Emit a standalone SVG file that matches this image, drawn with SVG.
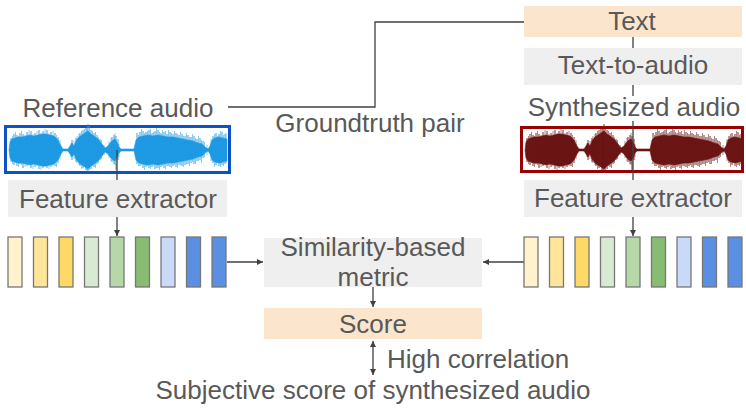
<svg xmlns="http://www.w3.org/2000/svg" xmlns:xlink="http://www.w3.org/1999/xlink" width="746" height="411" viewBox="0 0 746 411">
<style>
text{font-family:"Liberation Sans",Arial,sans-serif;font-size:26px;fill:#595959}
.c{text-anchor:middle}
.gray{fill:#efefef}
.peach{fill:#fce5cd}
.bar{stroke:#777;stroke-width:1.3}
.conn{fill:none;stroke:#404040;stroke-width:1.3}
</style>
<defs>
<marker id="ah" viewBox="0 0 10 10" refX="10" refY="5" markerWidth="6" markerHeight="6" markerUnits="userSpaceOnUse" orient="auto-start-reverse">
<path d="M0,0L10,5L0,10z" fill="#404040"/>
</marker>
<g id="wave">
<path stroke-width="0.6" d="M9,150L10,142 12,139 15,138 18,137 22,137 26,136 30,135 34,136 38,135 42,134 46,134 50,135 54,136 58,140 61,146 63,149 68,149 70,146 72,143 74,146 76,141 79,137 82,135 85,133 88,131 91,134 94,136 98,139 102,144 105,148 108,146 110,143 113,140 115,139 117,142 119,147 121,149 134,149 136,140 139,137 143,136 148,135 153,136 158,135 163,136 168,137 173,137 178,138 183,139 188,140 193,141 198,143 202,144 205,147 208,149 210,146 212,140 215,138 219,137 223,138 227,139 227,161 223,162 219,163 215,162 212,160 210,154 208,151 205,153 202,156 198,157 193,159 188,160 183,161 178,162 173,163 168,163 163,164 158,165 153,164 148,165 143,164 139,163 136,160 134,151 121,151 119,153 117,158 115,161 113,160 110,157 108,154 105,152 102,156 98,161 94,164 91,166 88,169 85,167 82,165 79,163 76,159 74,154 72,157 70,154 68,151 63,151 61,154 58,160 54,164 50,165 46,166 42,166 38,165 34,164 30,165 26,164 22,163 18,163 15,162 12,161 10,158z"/>
<path fill="none" stroke-width="0.9" d="M11,138V162M14,134V165M17,135V166M20,133V164M23,134V168M27,132V166M31,131V168M35,133V167M39,130V169M43,131V168M47,130V168M51,132V167M55,133V166M58,137V163M72,140V160M76,138V162M80,133V166M83,130V168M86,128V170M88,124V172M91,130V169M94,133V167M97,135V164M100,139V160M112,137V162M114,135V164M116,136V170M118,139V160M137,133V164M140,132V166M143,131V168M146,132V167M149,130V168M152,133V167M155,131V169M158,130V168M161,133V167M164,132V168M167,134V166M170,132V167M173,134V166M176,133V167M179,135V165M182,134V166M185,136V165M188,135V164M191,137V163M194,136V164M197,139V161M200,138V160M203,141V158M213,136V163M216,133V165M219,134V166M222,132V165M225,134V164"/>
<path fill="none" stroke-width="0.7" opacity="0.75" d="M12.5,136V164M15.5,132V163M18.5,136V167M21.5,131V165M25,135V167M29,130V164M33,134V169M37,131V166M41,133V170M45,129V167M49,133V169M53,131V166M56.5,135V167M60,140V159M71,143V157M74,141V159M77,136V163M79,134V165M81.5,131V169M84.5,129V167M87,127V171M89.5,126V170M92.5,131V166M95.5,132V168M98.5,137V163M101.5,140V159M104,145V155M109,141V158M111,138V161M115,133V165M119,144V157M138.5,135V166M141.5,129V165M144.5,133V170M147.5,131V166M150.5,129V169M153.5,132V166M156.5,128V168M159.5,132V170M162.5,130V166M165.5,131V169M168.5,130V166M171.5,133V168M174.5,131V165M177.5,134V168M180.5,132V165M183.5,136V167M186.5,133V164M189.5,137V166M192.5,134V162M195.5,138V164M198.5,136V161M201.5,140V163M204.5,142V157M207,145V155M211,139V161M214.5,134V167M217.5,136V163M220.5,131V167M223.5,135V166M226,133V163"/>
</g>
</defs>
<rect width="746" height="411" fill="#ffffff"/>

<g id="reference-audio">
<text class="c" x="118" y="117">Reference audio</text>
<rect x="5.5" y="126.5" width="224" height="46" fill="#ffffff" stroke="#0b52c4" stroke-width="3"/>
<use xlink:href="#wave" fill="#1e9ae3" stroke="#1e9ae3"/>
</g>

<g id="synthesized-audio">
<text class="c" x="634" y="116">Synthesized audio</text>
<rect x="521.5" y="127.5" width="221" height="44" fill="#ffffff" stroke="#990000" stroke-width="3"/>
<use xlink:href="#wave" transform="translate(516,0)" fill="#6b1515" stroke="#6b1515"/>
</g>

<g id="connectors">
<path class="conn" d="M228,107H375V22H524"/>
<path class="conn" d="M117,150V236" marker-end="url(#ah)"/>
<path class="conn" d="M633,37V96"/>
<path class="conn" d="M633,121V236" marker-end="url(#ah)"/>
<path class="conn" d="M227,262H263" marker-end="url(#ah)"/>
<path class="conn" d="M524,262H483" marker-end="url(#ah)"/>
<path class="conn" d="M373,287V307" marker-end="url(#ah)"/>
<path class="conn" d="M373,341V375" marker-start="url(#ah)" marker-end="url(#ah)"/>
</g>

<g id="groundtruth-label">
<text class="c" x="370" y="132">Groundtruth pair</text>
</g>

<g id="text">
<rect class="peach" x="524" y="6" width="218" height="31"/>
<text class="c" x="632" y="30">Text</text>
</g>

<g id="text-to-audio">
<rect class="gray" x="524" y="48" width="218" height="37"/>
<text class="c" x="633" y="74">Text-to-audio</text>
</g>

<g id="feature-extractor-left">
<rect class="gray" x="8" y="180" width="219" height="37"/>
<text class="c" x="118" y="208">Feature extractor</text>
</g>

<g id="feature-extractor-right">
<rect class="gray" x="524" y="180" width="218" height="37"/>
<text class="c" x="633" y="207">Feature extractor</text>
</g>

<g id="features-left">
<rect class="bar" x="8" y="237" width="14" height="50" fill="#fff2cc"/>
<rect class="bar" x="33.5" y="237" width="14" height="50" fill="#ffe599"/>
<rect class="bar" x="59" y="237" width="14" height="50" fill="#ffd966"/>
<rect class="bar" x="84.5" y="237" width="14" height="50" fill="#d9ead3"/>
<rect class="bar" x="110" y="237" width="14" height="50" fill="#b6d7a8"/>
<rect class="bar" x="135.5" y="237" width="14" height="50" fill="#88bc72"/>
<rect class="bar" x="161" y="237" width="14" height="50" fill="#c9daf8"/>
<rect class="bar" x="186.5" y="237" width="14" height="50" fill="#5b8fe2"/>
<rect class="bar" x="212" y="237" width="14" height="50" fill="#5b8fe2"/>
</g>

<g id="features-right">
<rect class="bar" x="524" y="237" width="14" height="50" fill="#fff2cc"/>
<rect class="bar" x="549.5" y="237" width="14" height="50" fill="#ffe599"/>
<rect class="bar" x="575" y="237" width="14" height="50" fill="#ffd966"/>
<rect class="bar" x="600.5" y="237" width="14" height="50" fill="#d9ead3"/>
<rect class="bar" x="626" y="237" width="14" height="50" fill="#b6d7a8"/>
<rect class="bar" x="651.5" y="237" width="14" height="50" fill="#88bc72"/>
<rect class="bar" x="677" y="237" width="14" height="50" fill="#c9daf8"/>
<rect class="bar" x="702.5" y="237" width="14" height="50" fill="#5b8fe2"/>
<rect class="bar" x="728" y="237" width="14" height="50" fill="#5b8fe2"/>
</g>

<g id="similarity-metric">
<rect class="gray" x="264" y="238" width="218" height="49"/>
<text class="c" x="373" y="256">Similarity-based</text>
<text class="c" x="373" y="286">metric</text>
</g>

<g id="score">
<rect class="peach" x="264" y="308" width="218" height="31"/>
<text class="c" x="373" y="333">Score</text>
</g>

<g id="correlation-label">
<text x="387" y="368">High correlation</text>
</g>

<g id="subjective-score">
<text class="c" x="373" y="399">Subjective score of synthesized audio</text>
</g>
</svg>
